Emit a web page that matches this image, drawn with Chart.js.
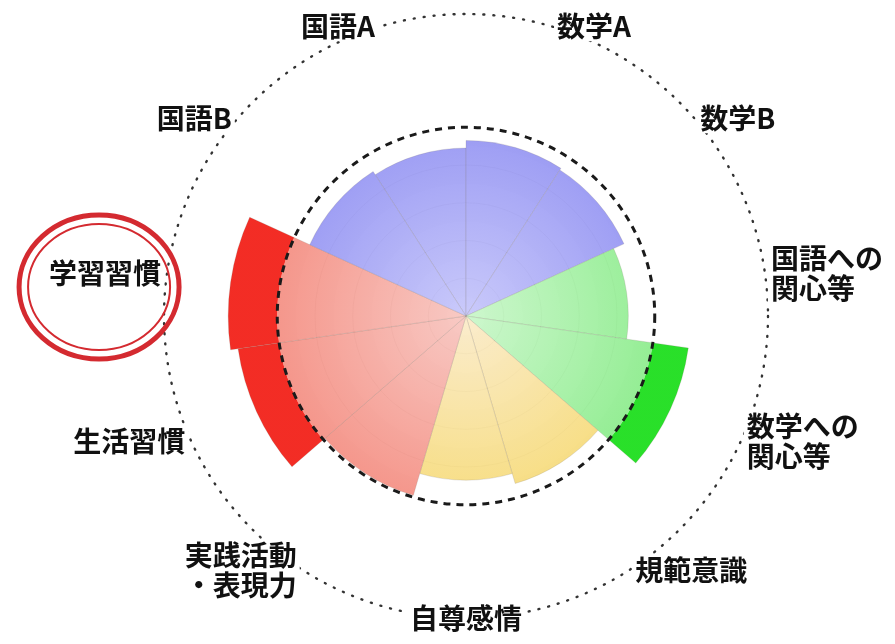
<!DOCTYPE html>
<html lang="ja">
<head>
<meta charset="utf-8">
<title>学力・学習状況 レーダー</title>
<script src="https://cdn.jsdelivr.net/npm/chart.js@4.4.1/dist/chart.umd.min.js"></script>
<style>
  html, body { margin: 0; padding: 0; background: #fff; }
  #wrap { width: 895px; height: 644px; position: relative; }
</style>
</head>
<body>
<div id="wrap"><canvas id="polarChart"></canvas></div>
<script>
// categories, clockwise from the top
const categories = ["国語A", "数学A", "数学B", ["国語への", "関心等"], ["数学への", "関心等"],
  "規範意識", "自尊感情", ["実践活動", "・表現力"], "生活習慣", "学習習慣", "国語B"];
const scores = [89, 93, 92, 86, 119, 92.5, 87, 99, 122, 126, 91];
const groups = ["blue", "blue", "blue", "green", "green", "yellow", "yellow", "red", "red", "red", "blue"];
const nationalAverage = 100;
const scaleMax = 160;
const gridStep = 20;
const highlighted = "学習習慣";

const palette = {
  blue:   { inner: "rgba(196,196,250,0.9)", outer: "rgba(146,146,242,0.92)", over: "rgba(90,90,235,0.95)" },
  green:  { inner: "rgba(200,246,200,0.9)", outer: "rgba(140,236,140,0.92)", over: "rgba(30,222,30,0.95)" },
  yellow: { inner: "rgba(250,234,200,0.9)", outer: "rgba(246,218,118,0.92)", over: "rgba(240,200,40,0.95)" },
  red:    { inner: "rgba(247,196,190,0.9)", outer: "rgba(244,142,130,0.92)", over: "rgba(242,36,28,0.96)" }
};

// light fill up to the average line, strong colour beyond it
function segmentFill(c) {
  const col = palette[groups[c.dataIndex]] || palette.blue;
  const r = c.chart.scales.r;
  if (!r || !r.drawingArea) return col.outer;
  const g = c.chart.ctx.createRadialGradient(r.xCenter, r.yCenter, 0, r.xCenter, r.yCenter, r.drawingArea);
  const t = r.getDistanceFromCenterForValue(nationalAverage) / r.drawingArea;
  g.addColorStop(0, col.inner);
  g.addColorStop(t, col.outer);
  g.addColorStop(Math.min(1, t + 0.002), col.over);
  g.addColorStop(1, col.over);
  return g;
}

// outer dotted ring, dashed average ring, and the category labels
const guides = {
  id: "guides",
  afterDatasetsDraw(chart) {
    const r = chart.scales.r;
    const ctx = chart.ctx;
    const n = categories.length;
    ctx.save();
    ctx.lineCap = "round";
    ctx.strokeStyle = "#333";
    ctx.lineWidth = 2.4;
    ctx.setLineDash([1, 9]);
    ctx.beginPath();
    ctx.arc(r.xCenter, r.yCenter, r.getDistanceFromCenterForValue(scaleMax), 0, Math.PI * 2);
    ctx.stroke();

    ctx.lineCap = "butt";
    ctx.strokeStyle = "#1a1a1a";
    ctx.lineWidth = 3;
    ctx.setLineDash([7, 6]);
    ctx.beginPath();
    ctx.arc(r.xCenter, r.yCenter, r.getDistanceFromCenterForValue(nationalAverage), 0, Math.PI * 2);
    ctx.stroke();
    ctx.setLineDash([]);

    ctx.font = 'bold 28px "Noto Sans CJK JP", sans-serif';
    ctx.textBaseline = "middle";
    const lineH = 30;
    chart.$labelBoxes = [];
    categories.forEach((label, i) => {
      const lines = [].concat(label);
      const p = r.getPointPosition(i, r.drawingArea, Math.PI / n);
      const deg = (((p.angle + Math.PI / 2) * 180 / Math.PI) % 360 + 360) % 360;
      const w = Math.max(...lines.map(s => ctx.measureText(s).width));
      const h = lines.length * lineH;
      let left;
      if (Math.abs(deg - 180) < 1 || deg < 1 || deg > 359) left = p.x - w / 2;
      else if (deg < 180) left = p.x + 6;
      else left = p.x - 6 - w;
      const top = p.y - h / 2;
      ctx.fillStyle = "#fff";
      ctx.fillRect(left - 3, top, w + 6, h);
      ctx.fillStyle = "#111";
      ctx.textAlign = "left";
      lines.forEach((s, k) => ctx.fillText(s, left, top + lineH * (k + 0.5)));
      chart.$labelBoxes.push({ label: lines.join(""), left, top, w, h });
    });
    ctx.restore();
  },
  afterDraw(chart) {
    const box = (chart.$labelBoxes || []).find(b => b.label === highlighted);
    if (!box) return;
    const ctx = chart.ctx;
    const cx = box.left + box.w / 2 - 6;
    const cy = box.top + box.h / 2 + 14;
    ctx.save();
    ctx.strokeStyle = "#d42a30";
    ctx.lineWidth = 5;
    ctx.beginPath();
    ctx.ellipse(cx, cy, 80, 72, 0, 0, Math.PI * 2);
    ctx.stroke();
    ctx.lineWidth = 2;
    ctx.beginPath();
    ctx.ellipse(cx, cy, 71, 63, 0, 0, Math.PI * 2);
    ctx.stroke();
    ctx.restore();
  }
};

new Chart(document.getElementById("polarChart"), {
  type: "polarArea",
  data: {
    labels: categories,
    datasets: [{
      data: scores,
      backgroundColor: segmentFill,
      borderColor: "rgba(120,110,100,0.18)",
      borderWidth: 1
    }]
  },
  options: {
    responsive: true,
    maintainAspectRatio: false,
    animation: false,
    layout: { padding: { left: 164, right: 127, top: 14, bottom: 26 } },
    plugins: { legend: { display: false }, tooltip: { enabled: false } },
    scales: {
      r: {
        min: 0,
        max: scaleMax,
        startAngle: -360 / categories.length,
        ticks: { display: false, stepSize: gridStep },
        grid: {
          circular: true,
          color: c => (c.tick && c.tick.value < nationalAverage) ? "rgba(110,100,90,0.35)" : "transparent"
        },
        angleLines: { display: false },
        pointLabels: { display: false }
      }
    }
  },
  plugins: [guides]
});
</script>
</body>
</html>
